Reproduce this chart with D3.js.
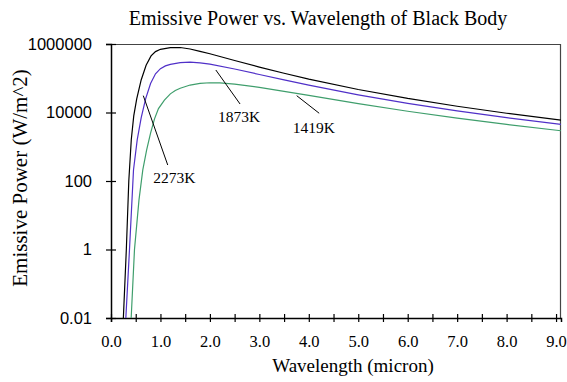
<!DOCTYPE html>
<html>
<head>
<meta charset="utf-8">
<script src="https://cdn.jsdelivr.net/npm/d3@7"></script>
<style>
  body { margin: 0; background: #fff; }
</style>
</head>
<body>
<div id="chart"></div>
<script>
const SERIF = '"Liberation Serif", "Times New Roman", serif';
const SANS = '"Liberation Sans", Arial, sans-serif';

// wavelength (micron) / emissive power (W/m^2)
const wl2273 = [0.23, 0.25, 0.31, 0.36, 0.41, 0.46, 0.52, 0.61, 0.71, 0.81, 0.9, 1.0, 1.2, 1.4, 1.6, 1.8, 2.0, 2.5, 3.0, 3.5, 4.0, 5.0, 6.0, 7.0, 8.0, 9.1];
const ep2273 = [0.0005, 0.01, 1, 100, 1600, 8000, 25000, 89000, 240000, 450000, 600000, 700000, 780000, 790000, 715000, 610000, 520000, 330000, 212000, 140000, 94500, 47000, 25700, 15200, 9500, 6000];

const wl1873 = [0.28, 0.30, 0.374, 0.455, 0.53, 0.61, 0.70, 0.80, 0.90, 1.0, 1.1, 1.2, 1.4, 1.6, 1.8, 2.0, 2.5, 3.0, 3.5, 4.0, 5.0, 6.0, 7.0, 8.0, 9.1];
const ep1873 = [0.0005, 0.01, 1, 210, 1580, 7000, 25000, 70000, 135000, 190000, 230000, 255000, 285000, 295000, 281000, 257000, 186000, 129000, 89300, 62700, 32800, 18500, 11150, 7080, 4520];

const wl1419 = [0.39, 0.408, 0.475, 0.566, 0.643, 0.72, 0.80, 0.88, 0.96, 1.08, 1.2, 1.3, 1.4, 1.6, 1.8, 2.0, 2.2, 2.5, 3.0, 3.5, 4.0, 5.0, 6.0, 7.0, 8.0, 9.1];
const ep1419 = [0.0005, 0.01, 1, 28, 210, 800, 2500, 6500, 13000, 23000, 35000, 44000, 51000, 63300, 71100, 73900, 73000, 67500, 54300, 41600, 31450, 18140, 10890, 6840, 4480, 2930];

const seriesColors = ["#000000", "#5030c8", "#3f9e6c"];

const yTicks = [0.01, 1, 100, 10000, 1000000];
const xTicks = d3.range(0, 9.01, 0.5);
const xLabels = [0, 1, 2, 3, 4, 5, 6, 7, 8, 9];

// leader lines [wavelength, power] and where the label text sits
const leaders = [
  { name: "2273K", from: [0.653, 31000], to: [1.147, 293], text: [1.28, 87] },
  { name: "1873K", from: [2.12, 174000], to: [2.61, 17700], text: [2.59, 5250] },
  { name: "1419K", from: [3.755, 31000], to: [4.21, 9500], text: [4.10, 2500] }
];

const W = 567, H = 382;
const margin = { top: 44, right: 6, bottom: 64, left: 111 };
const width = W - margin.left - margin.right;
const height = H - margin.top - margin.bottom;

const svg = d3.select("#chart").append("svg")
  .attr("width", W).attr("height", H);

const x = d3.scaleLinear().domain([0, 9.1]).range([0, width]);
const y = d3.scaleLog().domain([0.01, 1000000]).range([height, 0]);

const g = svg.append("g")
  .attr("transform", "translate(" + margin.left + "," + margin.top + ")");

g.append("clipPath").attr("id", "clip")
  .append("rect").attr("width", width).attr("height", height);

// frame
g.append("line").attr("x1", 0).attr("x2", width).attr("y1", 0.5).attr("y2", 0.5)
  .attr("stroke", "#444").attr("stroke-width", 1.2);
g.append("line").attr("x1", width - 0.5).attr("x2", width - 0.5).attr("y1", 0).attr("y2", height)
  .attr("stroke", "#444").attr("stroke-width", 1.2);

// axes
const yAxis = d3.axisLeft(y).tickValues(yTicks).tickSize(5).tickPadding(14)
  .tickFormat(d => d < 1 ? "0.01" : d3.format("d")(d));
const yg = g.append("g").call(yAxis);
yg.select(".domain").attr("stroke", "#000").attr("stroke-width", 1.5);
yg.selectAll(".tick line").attr("x1", -5).attr("x2", 5).attr("stroke-width", 1.2);
yg.selectAll("text").style("font-family", SANS).style("font-size", "16.5px").attr("fill", "#000");

const xAxis = d3.axisBottom(x).tickValues(xTicks).tickSize(4).tickPadding(13)
  .tickFormat(d => xLabels.includes(d) ? d3.format(".1f")(d) : "");
const xg = g.append("g").attr("transform", "translate(0," + height + ")").call(xAxis);
xg.select(".domain").attr("stroke", "#000").attr("stroke-width", 1.5);
xg.selectAll(".tick line").attr("y1", -4).attr("y2", 4).attr("stroke-width", 1.2);
xg.selectAll("text").style("font-family", SERIF).style("font-size", "16.5px").attr("fill", "#000");

// curves
const line = d3.line().x(d => x(d[0])).y(d => y(d[1]));
const series = [
  d3.zip(wl2273, ep2273),
  d3.zip(wl1873, ep1873),
  d3.zip(wl1419, ep1419)
];
g.append("g").attr("clip-path", "url(#clip)")
  .selectAll("path").data(series).join("path")
  .attr("d", line)
  .attr("fill", "none")
  .attr("stroke", (d, i) => seriesColors[i])
  .attr("stroke-width", 1.2);

// leader lines and labels
g.selectAll(".leader").data(leaders).join("line")
  .attr("class", "leader")
  .attr("x1", d => x(d.from[0])).attr("y1", d => y(d.from[1]))
  .attr("x2", d => x(d.to[0])).attr("y2", d => y(d.to[1]))
  .attr("stroke", "#000").attr("stroke-width", 1);
g.selectAll(".lab").data(leaders).join("text")
  .attr("class", "lab")
  .attr("x", d => x(d.text[0])).attr("y", d => y(d.text[1]))
  .attr("text-anchor", "middle")
  .style("font-family", SERIF)
  .style("font-size", "15.5px")
  .text(d => d.name);

// titles
svg.append("text")
  .attr("x", 318).attr("y", 25).attr("text-anchor", "middle")
  .style("font-family", SERIF).style("font-size", "20px")
  .text("Emissive Power vs. Wavelength of Black Body");
svg.append("text")
  .attr("x", 353).attr("y", 372).attr("text-anchor", "middle")
  .style("font-family", SERIF).style("font-size", "19px")
  .text("Wavelength (micron)");
svg.append("text")
  .attr("transform", "translate(27,178) rotate(-90)")
  .attr("text-anchor", "middle")
  .style("font-family", SERIF).style("font-size", "21px")
  .text("Emissive Power (W/m^2)");
</script>
</body>
</html>
